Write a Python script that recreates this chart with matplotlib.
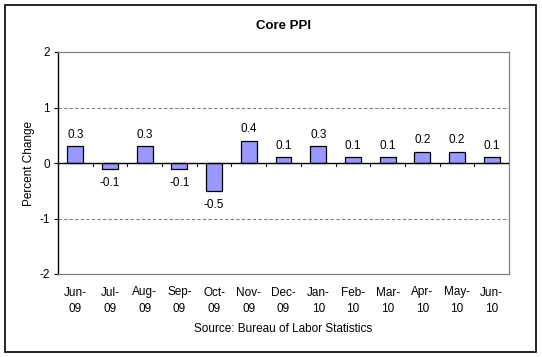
import matplotlib
matplotlib.use("Agg")
from matplotlib import pyplot as plt
from matplotlib.patches import Rectangle

plt.rcParams['font.family'] = ['Liberation Sans', 'DejaVu Sans']

months = ["Jun-\n09", "Jul-\n09", "Aug-\n09", "Sep-\n09", "Oct-\n09", "Nov-\n09", "Dec-\n09",
          "Jan-\n10", "Feb-\n10", "Mar-\n10", "Apr-\n10", "May-\n10", "Jun-\n10"]
values = [0.3, -0.1, 0.3, -0.1, -0.5, 0.4, 0.1, 0.3, 0.1, 0.1, 0.2, 0.2, 0.1]
y_ticks = [-2, -1, 0, 1, 2]

W, H = 542, 357
fig = plt.figure(figsize=(W / 100, H / 100), dpi=100)
fig.patch.set_facecolor("white")

# outer chart border
fig.add_artist(Rectangle((5 / W, 5 / H), 531 / W, 347 / H, transform=fig.transFigure,
                         fill=False, edgecolor="black", linewidth=1.2))

ax = fig.add_axes([58 / W, 1 - 274 / H, 451 / W, 222 / H])
x = list(range(len(values)))
ax.bar(x, values, width=0.46, color="#9999FF", edgecolor="black", linewidth=0.9, zorder=3)

ax.set_xlim(-0.5, len(values) - 0.5)
ax.set_ylim(-2, 2)
ax.set_yticks(y_ticks)
ax.set_yticklabels([str(t) for t in y_ticks], fontsize=8.5)

for g in (1, -1):
    ax.axhline(g, color="#808080", linestyle=(0, (3, 2)), linewidth=0.8, zorder=1)
ax.axhline(0, color="black", linewidth=1.0, zorder=4)

# category boundary ticks below the zero line
for b in range(1, len(values)):
    ax.plot([b - 0.5, b - 0.5], [0, -0.06], color="black", linewidth=0.8, zorder=4)

for s in ("top", "right", "bottom"):
    ax.spines[s].set_color("#808080")
    ax.spines[s].set_linewidth(0.9)
ax.spines["left"].set_color("black")
ax.spines["left"].set_linewidth(1.0)

ax.tick_params(axis="y", direction="out", length=3, width=0.8, pad=3)
ax.set_xticks(x)
ax.set_xticklabels(months, fontsize=8.5, linespacing=1.45)
ax.tick_params(axis="x", length=0, pad=9)

for xi, v in zip(x, values):
    if v >= 0:
        ax.annotate(f"{v:.1f}", (xi, v), xytext=(0, 4), textcoords="offset points",
                    ha="center", va="bottom", fontsize=8.5)
    else:
        ax.annotate(f"{v:.1f}", (xi, v), xytext=(0, -6), textcoords="offset points",
                    ha="center", va="top", fontsize=8.5)

ax.set_ylabel("Percent Change", fontsize=8.5, labelpad=3)
fig.text(0.5 * (58 + 509) / W, 1 - 26 / H, "Core PPI", ha="center", va="center",
         fontsize=9.5, fontweight="bold")
fig.text(0.5 * (58 + 509) / W, 1 - 329 / H, "Source: Bureau of Labor Statistics",
         ha="center", va="center", fontsize=8.5)

fig.savefig("out.png", dpi=100)
